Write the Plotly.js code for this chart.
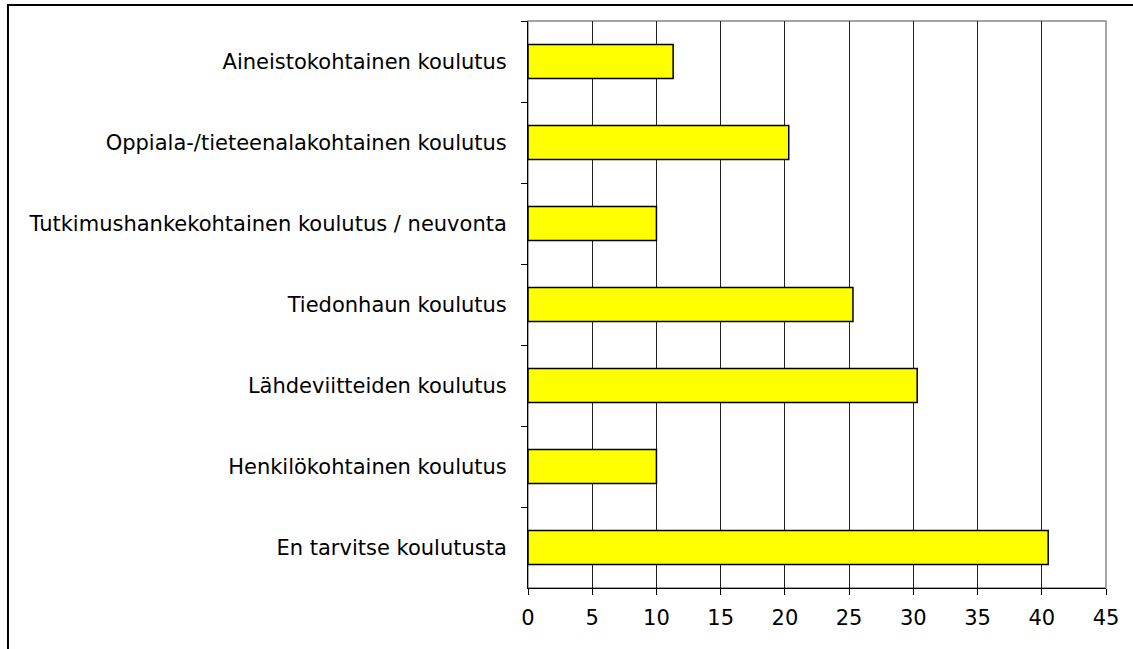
<!DOCTYPE html>
<html>
<head>
<meta charset="utf-8">
<script src="https://cdn.plot.ly/plotly-3.0.1.min.js"></script>
<style>
  html, body { margin: 0; padding: 0; background: #fff; }
  #chart { width: 1133px; height: 649px; }
</style>
</head>
<body>
<div id="chart"></div>
<script>
// categories listed top to bottom as in the picture
var categories = [
  'Aineistokohtainen koulutus',
  'Oppiala-/tieteenalakohtainen koulutus',
  'Tutkimushankekohtainen koulutus / neuvonta',
  'Tiedonhaun koulutus',
  'Lähdeviitteiden koulutus',
  'Henkilökohtainen koulutus',
  'En tarvitse koulutusta'
];
var values = [11.3, 20.3, 10.0, 25.3, 30.3, 10.0, 40.5];
var xTicks = [0, 5, 10, 15, 20, 25, 30, 35, 40, 45];

var data = [{
  type: 'bar',
  orientation: 'h',
  x: values,
  y: categories,
  marker: { color: '#ffff00', line: { color: '#000', width: 1.5 } },
  hoverinfo: 'x+y'
}];

var layout = {
  width: 1133,
  height: 649,
  margin: { l: 528, r: 27, t: 21, b: 61 },
  paper_bgcolor: '#fff',
  plot_bgcolor: '#fff',
  font: { family: 'DejaVu Sans, Liberation Sans, Arial', size: 21, color: '#000' },
  bargap: 0.58,
  showlegend: false,
  xaxis: {
    range: [0, 45],
    tickvals: xTicks,
    ticktext: xTicks.map(String),
    showgrid: true,
    gridcolor: '#222',
    gridwidth: 1,
    zeroline: false,
    showline: true,
    linecolor: '#000',
    linewidth: 1,
    ticks: 'outside',
    ticklen: 6,
    tickcolor: '#000',
    ticklabelstandoff: 5,
    fixedrange: true
  },
  yaxis: {
    type: 'category',
    autorange: 'reversed',
    showgrid: false,
    zeroline: false,
    showline: true,
    linecolor: '#000',
    linewidth: 1,
    ticks: 'outside',
    tickson: 'boundaries',
    ticklen: 6,
    tickcolor: '#000',
    ticklabelstandoff: 16,
    fixedrange: true
  },
  shapes: [
    // grey border of the plot area (top and right)
    { type: 'rect', xref: 'paper', yref: 'paper', x0: 0, x1: 1, y0: 0, y1: 1,
      line: { color: '#888', width: 1.5 }, layer: 'below' },
    // outer frame of the chart, cut off at right and bottom
    { type: 'rect', xref: 'paper', yref: 'paper', x0: -0.8997, x1: 1.2, y0: -0.3, y1: 1.0282,
      line: { color: '#000', width: 2 }, layer: 'below' }
  ]
};

Plotly.newPlot('chart', data, layout, { displayModeBar: false, staticPlot: true });
</script>
</body>
</html>
